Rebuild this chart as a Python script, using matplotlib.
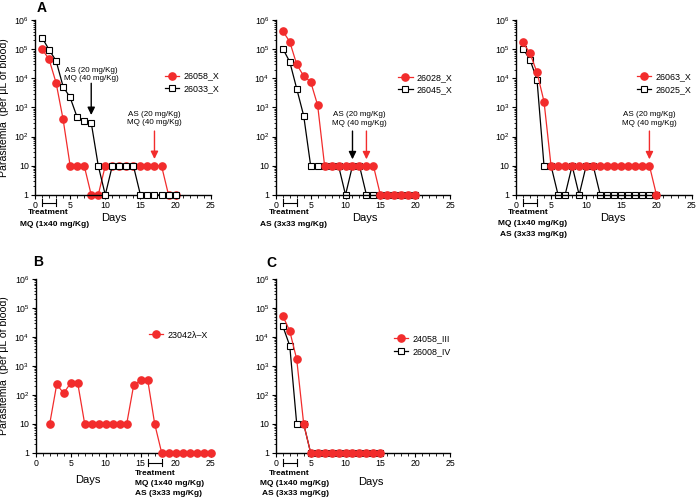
import matplotlib
matplotlib.use('Agg')
import matplotlib.pyplot as plt
from matplotlib.ticker import MultipleLocator, LogLocator, FixedLocator, FixedFormatter

plt.rcParams['font.family'] = ['Liberation Sans', 'DejaVu Sans']
plt.rcParams['mathtext.fontset'] = 'custom'
plt.rcParams['mathtext.rm'] = 'Liberation Sans'
plt.rcParams['mathtext.bf'] = 'Liberation Sans:bold'

RED = '#f22c2c'

# ---------------- data (parasitemia per uL of blood) ----------------
days_a = list(range(1, 21))
a1_red = [1e5, 4.5e4, 7e3, 3.9e2, 10, 10, 10, 1, 1, 10, 10, 10, 10, 10, 10, 10, 10, 10, 1, 1]
a1_black = [2.5e5, 9.6e4, 4e4, 5.2e3, 2.2e3, 4.6e2, 3.4e2, 3e2, 10, 1, 10, 10, 10, 10, 1, 1, 1, 1, 1, 1]
a2_red = [4.2e5, 1.8e5, 3e4, 1.2e4, 7.6e3, 1.2e3, 10, 10, 10, 10, 10, 10, 10, 10, 1, 1, 1, 1, 1, 1]
a2_black = [1.05e5, 3.7e4, 4.4e3, 5.2e2, 10, 10, 10, 10, 10, 1, 10, 10, 1, 1, 1, 1, 1, 1, 1, 1]
a3_red = [1.7e5, 7.3e4, 1.6e4, 1.6e3] + [10] * 15 + [1]
a3_black = [1.05e5, 4.4e4, 9e3, 10, 10, 1, 1, 10, 1, 10, 10] + [1] * 9

days_b = list(range(2, 26))
b_red = [10, 2.3e2, 1.15e2, 2.6e2, 2.6e2, 10, 10, 10, 10, 10, 10, 10, 2.2e2, 3.2e2, 3.3e2, 10] + [1] * 8

days_c = list(range(1, 16))
c_red = [5.4e4, 1.6e4, 1.7e3, 10] + [1] * 11
c_black = [2.4e4, 5e3, 10, 10] + [1] * 11

ytick_vals = [1, 10, 1e2, 1e3, 1e4, 1e5, 1e6]
ytick_labels = ['1', '10', r'$\mathregular{10^{2}}$', r'$\mathregular{10^{3}}$',
                r'$\mathregular{10^{4}}$', r'$\mathregular{10^{5}}$', r'$\mathregular{10^{6}}$']

ylab = 'Parasitemia  (per \u03bcL of blood)'
dose = 'AS (20 mg/Kg)\nMQ (40 mg/Kg)'


def setup(ax):
    ax.set_yscale('log')
    ax.set_ylim(1, 1e6)
    ax.set_xlim(0, 25)
    for s in ['top', 'right']:
        ax.spines[s].set_visible(False)
    for s in ['left', 'bottom']:
        ax.spines[s].set_linewidth(1.0)
    ax.yaxis.set_major_locator(FixedLocator(ytick_vals))
    ax.yaxis.set_major_formatter(FixedFormatter(ytick_labels))
    ax.yaxis.set_minor_locator(LogLocator(base=10, subs=range(2, 10)))
    ax.yaxis.set_minor_formatter(FixedFormatter([]))
    ax.xaxis.set_major_locator(MultipleLocator(5))
    ax.xaxis.set_minor_locator(MultipleLocator(1))
    ax.tick_params(which='major', direction='out', length=3, width=0.8, labelsize=6.3, pad=1.5)
    ax.tick_params(which='minor', direction='out', length=1.8, width=0.6)


def red_line(ax, x, y, label, z=3):
    ax.plot(x, y, color=RED, marker='o', ms=5.2, lw=0.9, clip_on=False, label=label, zorder=z)


def black_line(ax, x, y, label, z=2):
    ax.plot(x, y, color='k', marker='s', ms=5.0, mfc='white', mew=0.8, lw=0.9,
            clip_on=False, label=label, zorder=z)


def legend(ax, x, y):
    ax.legend(loc='center left', bbox_to_anchor=(x, y), frameon=False, fontsize=6.4,
              handlelength=1.6, handletextpad=0.5, labelspacing=0.4, borderpad=0, borderaxespad=0)


def arrow(ax, x, y0, y1, color):
    ax.annotate('', xy=(x, 10 ** y1), xytext=(x, 10 ** y0),
                arrowprops=dict(arrowstyle='-|>,head_length=0.45,head_width=0.22',
                                color=color, lw=1.0, shrinkA=0, shrinkB=0))


def bracket(ax, x0, x1, y):
    tr = ax.get_xaxis_transform()
    ax.plot([x0, x1], [y, y], color='k', lw=0.8, transform=tr, clip_on=False)
    for x in (x0, x1):
        ax.plot([x, x], [y - 0.02, y + 0.02], color='k', lw=0.8, transform=tr, clip_on=False)


def below(ax, x, y, s, bold=True, size=6.0, ha='center'):
    ax.text(x, y, s, transform=ax.get_xaxis_transform(), ha=ha, va='center',
            fontsize=size, fontweight='bold' if bold else 'normal')


fig = plt.figure(figsize=(7.0, 5.01), dpi=100)

axA1 = fig.add_axes([0.050, 0.611, 0.251, 0.349])
axA2 = fig.add_axes([0.394, 0.611, 0.249, 0.349])
axA3 = fig.add_axes([0.737, 0.611, 0.251, 0.349])
axB = fig.add_axes([0.051, 0.096, 0.250, 0.347])
axC = fig.add_axes([0.394, 0.096, 0.249, 0.347])

for ax in (axA1, axA2, axA3, axB, axC):
    setup(ax)

# ---- A1 ----
red_line(axA1, days_a, a1_red, '26058_X', z=2)
black_line(axA1, days_a, a1_black, '26033_X', z=3)
legend(axA1, 0.74, 0.643)
axA1.text(8, 10 ** 4.13, dose, ha='center', va='center', fontsize=5.8, linespacing=1.25)
arrow(axA1, 8, 3.83, 2.74, 'k')
axA1.text(17, 10 ** 2.62, dose, ha='center', va='center', fontsize=5.8, linespacing=1.25)
arrow(axA1, 17, 2.19, 1.23, RED)
bracket(axA1, 1, 3, -0.046)
below(axA1, 1.85, -0.103, 'Treatment')
below(axA1, 2.85, -0.171, 'MQ (1x40 mg/Kg)')
below(axA1, 11.2, -0.131, 'Days', bold=False, size=8)
axA1.set_ylabel(ylab, fontsize=7.6)
axA1.yaxis.set_label_coords(-0.15, 0.5)

# ---- A2 ----
red_line(axA2, days_a, a2_red, '26028_X', z=3)
black_line(axA2, days_a, a2_black, '26045_X', z=2)
legend(axA2, 0.703, 0.636)
axA2.text(12, 10 ** 2.6, dose, ha='center', va='center', fontsize=5.8, linespacing=1.25)
arrow(axA2, 11, 2.19, 1.22, 'k')
arrow(axA2, 13, 2.19, 1.22, RED)
bracket(axA2, 1, 3, -0.046)
below(axA2, 1.9, -0.103, 'Treatment')
below(axA2, 2.48, -0.171, 'AS (3x33 mg/Kg)')
below(axA2, 12.7, -0.131, 'Days', bold=False, size=8)

# ---- A3 ----
red_line(axA3, days_a, a3_red, '26063_X', z=3)
black_line(axA3, days_a, a3_black, '26025_X', z=2)
legend(axA3, 0.6875, 0.64)
axA3.text(19, 10 ** 2.6, dose, ha='center', va='center', fontsize=5.8, linespacing=1.25)
arrow(axA3, 19, 2.19, 1.22, RED)
bracket(axA3, 1, 3, -0.046)
below(axA3, 1.82, -0.103, 'Treatment')
below(axA3, 2.39, -0.166, 'MQ (1x40 mg/Kg)')
below(axA3, 2.46, -0.229, 'AS (3x33 mg/Kg)')
below(axA3, 13.75, -0.131, 'Days', bold=False, size=8)

# ---- B ----
red_line(axB, days_b, b_red, '23042\u03bb\u2013X')
legend(axB, 0.646, 0.678)
bracket(axB, 16, 18, -0.056)
below(axB, 14.14, -0.121, 'Treatment', ha='left')
below(axB, 14.14, -0.176, 'MQ (1x40 mg/Kg)', ha='left')
below(axB, 14.14, -0.234, 'AS (3x33 mg/Kg)', ha='left')
below(axB, 7.4, -0.155, 'Days', bold=False, size=8)
axB.set_ylabel(ylab, fontsize=7.6)
axB.yaxis.set_label_coords(-0.15, 0.5)

# ---- C ----
black_line(axC, days_c, c_black, '26008_IV', z=2)
red_line(axC, days_c, c_red, '24058_III', z=3)
h, l = axC.get_legend_handles_labels()
axC.legend(h[::-1], l[::-1], loc='center left', bbox_to_anchor=(0.679, 0.62), frameon=False,
           fontsize=6.4, handlelength=1.6, handletextpad=0.5, labelspacing=0.4,
           borderpad=0, borderaxespad=0)
bracket(axC, 1, 3, -0.056)
below(axC, 1.98, -0.121, 'Treatment')
below(axC, 2.62, -0.176, 'MQ (1x40 mg/Kg)')
below(axC, 2.77, -0.234, 'AS (3x33 mg/Kg)')
below(axC, 13.6, -0.167, 'Days', bold=False, size=8)

fig.text(42 / 700, 1 - 8 / 501, 'A', fontsize=10, fontweight='bold', ha='center', va='center')
fig.text(38 / 700, 1 - 262 / 501, 'B', fontsize=10, fontweight='bold', ha='center', va='center')
fig.text(271 / 700, 1 - 263 / 501, 'C', fontsize=10, fontweight='bold', ha='center', va='center')

fig.savefig('out.png', dpi=100)
